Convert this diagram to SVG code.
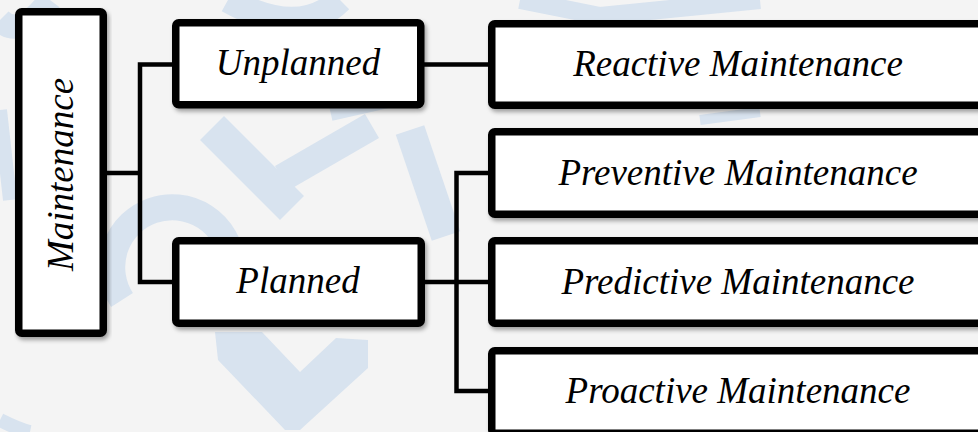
<svg xmlns="http://www.w3.org/2000/svg" width="978" height="432" viewBox="0 0 978 432">
  <defs>
    <style>
      .box { fill: #ffffff; stroke: #000000; stroke-width: 7.5; filter: url(#shadow); }
      .wire { fill: none; stroke: #000000; stroke-width: 4.5; stroke-linecap: butt; stroke-linejoin: miter; }
      .lbl { font-family: "Liberation Serif", "Times New Roman", serif; font-style: italic; font-size: 37px; fill: #000000; text-anchor: middle; }
      .wm { fill: none; stroke: #d8e3ef; stroke-linecap: butt; }
      .wmf { fill: #d8e3ef; }
    </style>
    <filter id="shadow" x="-5%" y="-10%" width="115%" height="130%">
      <feDropShadow dx="2" dy="3" stdDeviation="2" flood-color="#000000" flood-opacity="0.35"/>
    </filter>
  </defs>

  <!-- backdrop -->
  <rect x="0" y="0" width="978" height="432" fill="#f4f4f4"/>

  <!-- faint brush-stroke watermark -->
  <g id="watermark">
    <path class="wm" d="M122 300 A60 60 0 1 1 232 262" stroke-width="26"/>
    <path class="wm" d="M212 128 L292 208" stroke-width="34"/>
    <path class="wm" d="M282 178 L372 126" stroke-width="28"/>
    <path class="wm" d="M410 130 L446 236" stroke-width="30"/>
    <path class="wm" d="M228 0 Q300 40 340 0" stroke-width="26"/>
    <path class="wm" d="M330 110 L392 96" stroke-width="22"/>
    <path class="wmf" d="M215 332 L262 332 L300 372 L336 338 L368 340 L368 368 L300 430 L285 430 L218 360 Z"/>
    <path class="wm" d="M520 0 L600 16 L700 6 L760 0" stroke-width="18"/>
    <path class="wm" d="M0 20 Q20 40 50 0" stroke-width="24"/>
    <path class="wm" d="M0 110 L10 200" stroke-width="14"/>
    <path class="wm" d="M0 420 Q20 430 30 432" stroke-width="14"/>
    <path class="wm" d="M700 120 L760 112" stroke-width="10"/>
  </g>

  <!-- connectors -->
  <g id="connectors">
    <path class="wire" d="M107 173 H140"/>
    <path class="wire" d="M176 64.5 H140 V282 H176"/>
    <path class="wire" d="M424 64.5 H492"/>
    <path class="wire" d="M425 282 H492"/>
    <path class="wire" d="M492 173 H456.5 V391 H492"/>
  </g>

  <!-- nodes -->
  <g id="maintenance">
    <rect class="box" x="18.75" y="11.75" width="84.5" height="321.5" rx="3"/>
    <text class="lbl" transform="translate(73 174.5) rotate(-90)">Maintenance</text>
  </g>

  <g id="unplanned">
    <rect class="box" x="175.75" y="22.75" width="245" height="82" rx="3"/>
    <text class="lbl" x="298" y="75">Unplanned</text>
  </g>

  <g id="planned">
    <rect class="box" x="175.75" y="240.75" width="245.5" height="82.5" rx="3"/>
    <text class="lbl" x="298" y="293">Planned</text>
  </g>

  <g id="reactive">
    <rect class="box" x="491.75" y="23.75" width="520" height="81.5" rx="3"/>
    <text class="lbl" x="738" y="75.5">Reactive Maintenance</text>
  </g>

  <g id="preventive">
    <rect class="box" x="491.75" y="131.75" width="520" height="82.5" rx="3"/>
    <text class="lbl" x="738" y="184.5">Preventive Maintenance</text>
  </g>

  <g id="predictive">
    <rect class="box" x="491.75" y="240.75" width="520" height="82.5" rx="3"/>
    <text class="lbl" x="738" y="293.5">Predictive Maintenance</text>
  </g>

  <g id="proactive">
    <rect class="box" x="491.75" y="350.75" width="520" height="82.5" rx="3"/>
    <text class="lbl" x="738" y="402.5">Proactive Maintenance</text>
  </g>
</svg>
